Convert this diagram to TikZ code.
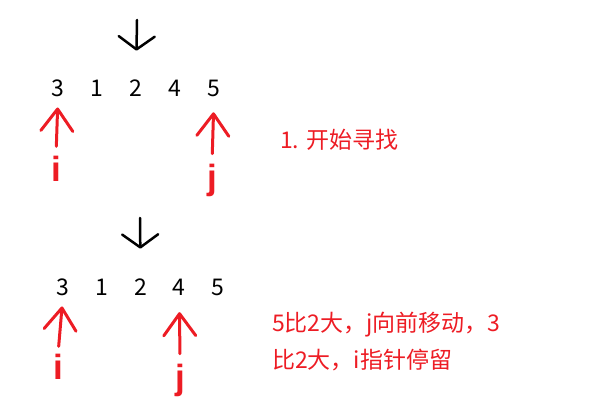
\documentclass[tikz,border=0pt]{standalone}
\usepackage{fontspec}
\setmainfont{Noto Sans CJK SC}
\newfontfamily\handfont{Liberation Sans}
\usetikzlibrary{positioning,arrows.meta}
\definecolor{paintred}{RGB}{237,28,36}

\begin{document}
\begin{tikzpicture}[
            x=1pt, y=-1pt,
            outer sep=0pt,
            % Style for the digits of the array
            num/.style={
                minimum width=39pt,
                inner sep=0pt,
                anchor=west,
                text=black,
                font=\fontsize{23}{23}\selectfont
            },
            % Style for the pointer letters i, j
            letter/.style={
                inner sep=0pt,
                text=paintred,
                font=\handfont\bfseries\fontsize{35}{35}\selectfont
            },
            % Style for the red notes
            note/.style={
                inner sep=0pt,
                anchor=west,
                text=paintred,
                align=left,
                font=\fontsize{23}{37}\selectfont
            },
            % Arrow above the pivot
            pivot/.style={
                line width=2.5pt,
                line cap=round,
                -{Straight Barb[length=13pt,width=36pt,round]}
            },
            % Red pointer arrows
            ptr/.style={
                draw=paintred,
                line width=3pt,
                line cap=round,
                -{Straight Barb[length=22pt,width=32pt,round]}
            }
        ]
            \useasboundingbox (0,0) rectangle (589,403);

            % ROW 1: START
            \node[num] (a0) at (38.5,88) {3};
            \node[num] (a1) at (a0.east) {1};
            \node[num] (a2) at (a1.east) {2};
            \node[num] (a3) at (a2.east) {4};
            \node[num] (a4) at (a3.east) {5};

            \coordinate (k1) at (137,20);
            \draw[pivot, shorten >=29pt] (k1) -- (a2.north);

            \node[letter] (i1) at (56,169) {i};
            \node[letter] (j1) at (212,180) {j};
            \draw[ptr, shorten <=10pt, shorten >=11pt] (i1.north) -- (a0.south);
            \draw[ptr, shorten <=10pt, shorten >=16pt] (j1.north) -- (a4.south);

            \node[note] (t1) at (280,140) {1. 开始寻找};

            % ROW 2: j MOVES, i STOPS
            \node[num] (b0) at (43.5,287) {3};
            \node[num, minimum width=38.75pt] (b1) at (b0.east) {1};
            \node[num, minimum width=38.75pt] (b2) at (b1.east) {2};
            \node[num, minimum width=38.75pt] (b3) at (b2.east) {4};
            \node[num, minimum width=38.75pt] (b4) at (b3.east) {5};

            \coordinate (k2) at (140,218);
            \draw[pivot, shorten >=30pt] (k2) -- (b2.north);

            \node[letter] (i2) at (58,367) {i};
            \node[letter] (j2) at (180,380) {j};
            \draw[ptr, shorten <=8pt, shorten >=11pt] (i2.north) -- (b0.south);
            \draw[ptr, shorten <=10pt, shorten >=17pt] (j2.north) -- (b3.south);

            \node[note] (t2) at (272,342) {5比2大，j向前移动，3\\比2大，i指针停留};

        \end{tikzpicture}
\end{document}
